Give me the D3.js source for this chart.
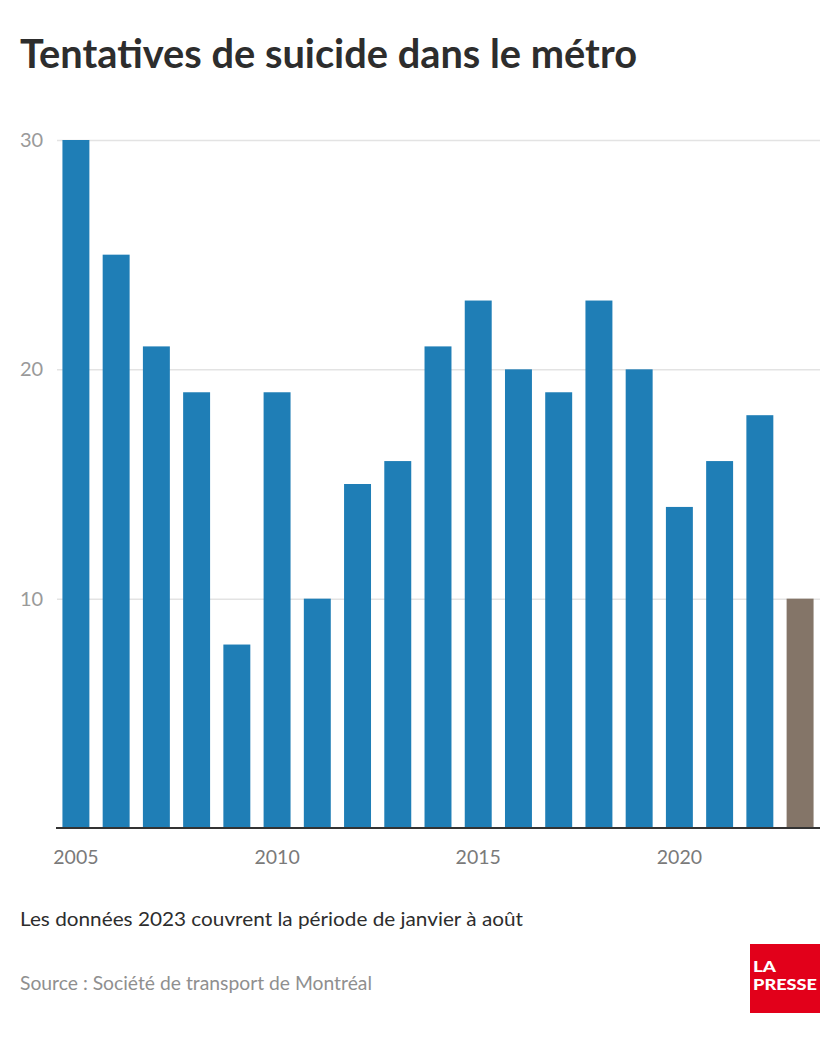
<!DOCTYPE html>
<html><head><meta charset="utf-8">
<script src="https://cdn.jsdelivr.net/npm/d3@7"></script>
<style>body{margin:0;background:#fff;}svg{display:block;}</style>
</head><body>
<script>
const years = [2005,2006,2007,2008,2009,2010,2011,2012,2013,2014,2015,2016,2017,2018,2019,2020,2021,2022,2023];
const values = [30,25,21,19,8,19,10,15,16,21,23,20,19,23,20,14,16,18,10];
const yTicks = [10,20,30];
const xTickLabels = [2005,2010,2015,2020];

const W=840,H=1040;
const svg=d3.select("body").append("svg").attr("width",W).attr("height",H);
const font="Lato, 'Open Sans', sans-serif";

svg.append("text").attr("x",20).attr("y",68).attr("font-family",font).attr("font-weight",700)
  .attr("font-size",40).attr("fill","#2d2d2d").attr("textLength",617).attr("lengthAdjust","spacingAndGlyphs")
  .text("Tentatives de suicide dans le métro");

const x=d3.scaleBand().domain(years).range([56,820]).paddingInner(0.33).paddingOuter(0.16);
const y=d3.scaleLinear().domain([0,30]).range([828,140]);

// gridlines
const yAxis=d3.axisLeft(y).tickValues(yTicks).tickSize(-(820-57)).tickPadding(12);
const gy=svg.append("g").attr("transform","translate(57,0)").call(yAxis);
gy.select(".domain").remove();
gy.selectAll(".tick line").attr("stroke","#e3e3e3").attr("stroke-width",1.5);
gy.selectAll(".tick text").attr("x",-37).attr("text-anchor","start").attr("font-family",font)
  .attr("font-size",20).attr("fill","#9a9a9a").attr("dy","0.32em");

svg.append("g").selectAll("rect").data(years).join("rect")
  .attr("x",d=>x(d)).attr("width",x.bandwidth())
  .attr("y",(d,i)=>y(values[i])).attr("height",(d,i)=>y(0)-y(values[i]))
  .attr("fill",d=>d===2023?"#847568":"#1f7eb6");

const xAxis=d3.axisBottom(x).tickValues(xTickLabels).tickSize(0).tickPadding(22);
const gx=svg.append("g").attr("transform","translate(0,828)").call(xAxis);
gx.select(".domain").remove();
svg.append("line").attr("x1",56).attr("x2",820).attr("y1",828).attr("y2",828).attr("stroke","#333").attr("stroke-width",2);
gx.selectAll(".tick text").attr("font-family",font).attr("font-size",19.5).attr("fill","#7a7a7a");

svg.append("text").attr("x",20).attr("y",926).attr("font-family",font).attr("font-size",20)
  .attr("fill","#2d2d2d").attr("textLength",503).attr("lengthAdjust","spacingAndGlyphs")
  .text("Les données 2023 couvrent la période de janvier à août");
svg.append("text").attr("x",20).attr("y",990).attr("font-family",font).attr("font-size",19.5)
  .attr("fill","#8f8f8f").attr("textLength",352).attr("lengthAdjust","spacingAndGlyphs")
  .text("Source : Société de transport de Montréal");

const logo=svg.append("g");
logo.append("rect").attr("x",750).attr("y",944).attr("width",70).attr("height",69).attr("fill","#e2001a");
logo.append("text").attr("x",753).attr("y",972).attr("font-family",font).attr("font-weight",900)
  .attr("font-size",15).attr("fill","#fff").attr("textLength",23).attr("lengthAdjust","spacingAndGlyphs").text("LA");
logo.append("text").attr("x",753).attr("y",990).attr("font-family",font).attr("font-weight",900)
  .attr("font-size",15).attr("fill","#fff").attr("textLength",64).attr("lengthAdjust","spacingAndGlyphs").text("PRESSE");
</script>
</body></html>
